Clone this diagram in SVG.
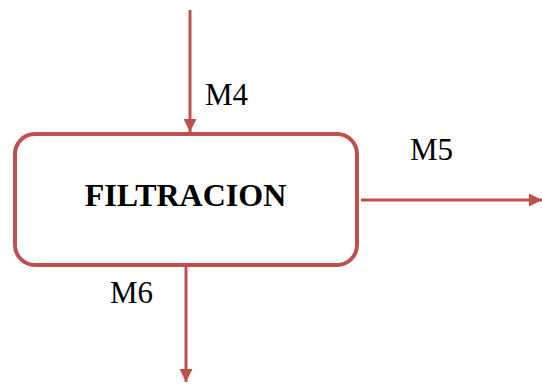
<svg xmlns="http://www.w3.org/2000/svg" width="542" height="385" viewBox="0 0 542 385">
  <style>
    .flow { stroke: #C0504D; stroke-width: 3; fill: none; }
    .box { stroke: #C0504D; stroke-width: 4; fill: #FFFFFF; }
    .lbl { font-family: "Liberation Serif", serif; font-size: 31px; fill: #000000; }
    .title { font-family: "Liberation Serif", serif; font-size: 32px; font-weight: bold; fill: #000000; }
  </style>
  <defs>
    <marker id="arrow" viewBox="0 0 10 10" refX="10" refY="5" markerWidth="4.5" markerHeight="4.5" orient="auto" markerUnits="strokeWidth">
      <path d="M0,0 L10,5 L0,10 Z" fill="#C0504D"/>
    </marker>
  </defs>
  <rect width="542" height="385" fill="#FFFFFF"/>
  <g id="connectors">
    <line class="flow" x1="190" y1="10" x2="190" y2="132" marker-end="url(#arrow)"/>
    <line class="flow" x1="361" y1="200" x2="542" y2="200" marker-end="url(#arrow)"/>
    <line class="flow" x1="186" y1="267" x2="186" y2="382" marker-end="url(#arrow)"/>
  </g>
  <g id="filtracion">
    <rect class="box" x="15" y="134" width="342" height="131" rx="20" ry="20"/>
    <text class="title" x="185.5" y="206" text-anchor="middle">FILTRACION</text>
  </g>
  <g id="labels">
    <text class="lbl" x="205" y="105">M4</text>
    <text class="lbl" x="410" y="160">M5</text>
    <text class="lbl" x="110" y="303">M6</text>
  </g>
</svg>
